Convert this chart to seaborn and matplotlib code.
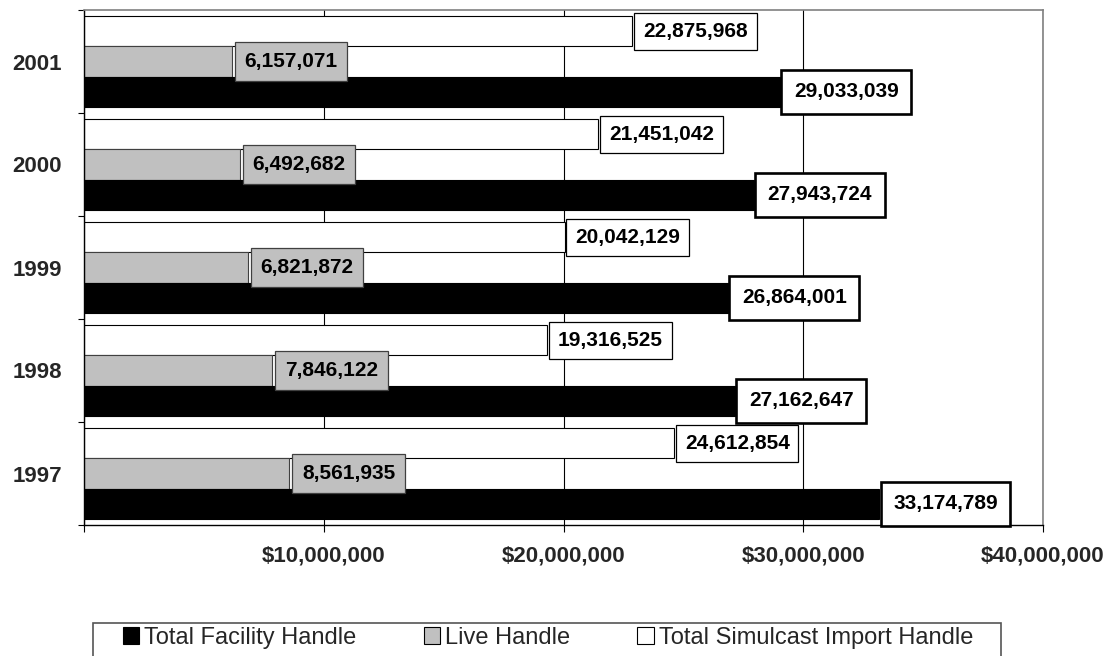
import numpy as np
import pandas as pd
import matplotlib
matplotlib.use('Agg')
import matplotlib.pyplot as plt
from matplotlib.patches import Patch, Rectangle
from matplotlib.ticker import FixedLocator, FuncFormatter
import seaborn as sns

# data, top group first
years = ['2001', '2000', '1999', '1998', '1997']
facility = [29033039, 27943724, 26864001, 27162647, 33174789]
live = [6157071, 6492682, 6821872, 7846122, 8561935]
simulcast = [22875968, 21451042, 20042129, 19316525, 24612854]

series = ['Total Simulcast Import Handle', 'Live Handle', 'Total Facility Handle']
legend_order = ['Total Facility Handle', 'Live Handle', 'Total Simulcast Import Handle']
colors = {'Total Facility Handle': 'black', 'Live Handle': '#c0c0c0',
          'Total Simulcast Import Handle': 'white'}

df = pd.DataFrame({
    'Year': years * 3,
    'Series': [series[0]] * 5 + [series[1]] * 5 + [series[2]] * 5,
    'Handle': simulcast + live + facility,
})

sns.set_style('white')
plt.rcParams['font.family'] = ['Liberation Sans', 'DejaVu Sans']

fig = plt.figure(figsize=(11.14, 6.56), dpi=100)
ax = fig.add_axes([84 / 1114, 1 - 525 / 656, (1043 - 84) / 1114, 515 / 656])

sns.barplot(data=df, y='Year', x='Handle', hue='Series', hue_order=series,
            order=years, orient='h', palette=colors, width=0.88,
            saturation=1, legend=False, errorbar=None, ax=ax)

edge = {series[0]: 'black', series[1]: '#404040', series[2]: 'black'}
box_style = {
    series[0]: dict(fc='white', ec='black', lw=0.9, pad=0.42, off=7.7),
    series[1]: dict(fc='#c0c0c0', ec='#404040', lw=0.9, pad=0.47, off=9.2),
    series[2]: dict(fc='white', ec='black', lw=1.9, pad=0.6, off=9.9),
}

for name, cont in zip(series, ax.containers):
    st = box_style[name]
    for bar in cont:
        bar.set_edgecolor(edge[name])
        bar.set_linewidth(0.8)
        w = bar.get_width()
        yc = bar.get_y() + bar.get_height() / 2
        ax.annotate(f'{w:,.0f}', xy=(w, yc), xytext=(st['off'], 0),
                    textcoords='offset points', ha='left', va='center',
                    fontsize=15, fontweight='bold', color='black',
                    bbox=dict(boxstyle=f"square,pad={st['pad']}", fc=st['fc'],
                              ec=st['ec'], lw=st['lw']),
                    zorder=5)

ax.set_xlim(0, 40000000)
ax.set_ylim(4.5, -0.5)
ax.xaxis.set_major_locator(FixedLocator([0, 10000000, 20000000, 30000000, 40000000]))
ax.xaxis.set_major_formatter(FuncFormatter(lambda v, p: '' if v == 0 else f'${v:,.0f}'))
ax.grid(axis='x', color='black', lw=0.8)
ax.set_axisbelow(True)

ax.yaxis.set_minor_locator(FixedLocator(np.arange(-0.5, 5, 1)))
ax.tick_params(axis='y', which='major', length=0, pad=16, labelsize=16)
ax.tick_params(axis='y', which='minor', length=4.5, width=0.8, color='black', direction='out', left=True)
ax.tick_params(axis='x', which='major', length=5, width=0.8, color='black', direction='out',
               bottom=True, pad=10, labelsize=16)
for lab in ax.get_xticklabels() + ax.get_yticklabels():
    lab.set_fontweight('bold')

ax.set_xlabel('')
ax.set_ylabel('')
for side in ['left', 'bottom']:
    ax.spines[side].set_color('black')
    ax.spines[side].set_linewidth(1.0)
for side in ['top', 'right']:
    ax.spines[side].set_visible(True)
    ax.spines[side].set_color('#808080')
    ax.spines[side].set_linewidth(1.2)

handles = [Patch(facecolor=colors[n], edgecolor='black', lw=0.8) for n in legend_order]
fig.legend(handles, legend_order, loc='upper center', ncol=3, frameon=False,
           bbox_to_anchor=(548 / 1114, 1 - 627 / 656), borderpad=0, fontsize=17,
           handlelength=0.7, handleheight=0.7, handletextpad=0.2, columnspacing=2.85,
           borderaxespad=0)
fig.patches.append(Rectangle((93 / 1114, -0.05), (1001 - 93) / 1114, 0.05 + 1 - 623 / 656,
                             transform=fig.transFigure, fill=False, ec='#555555', lw=1.2))

fig.savefig('out.png', dpi=100)
